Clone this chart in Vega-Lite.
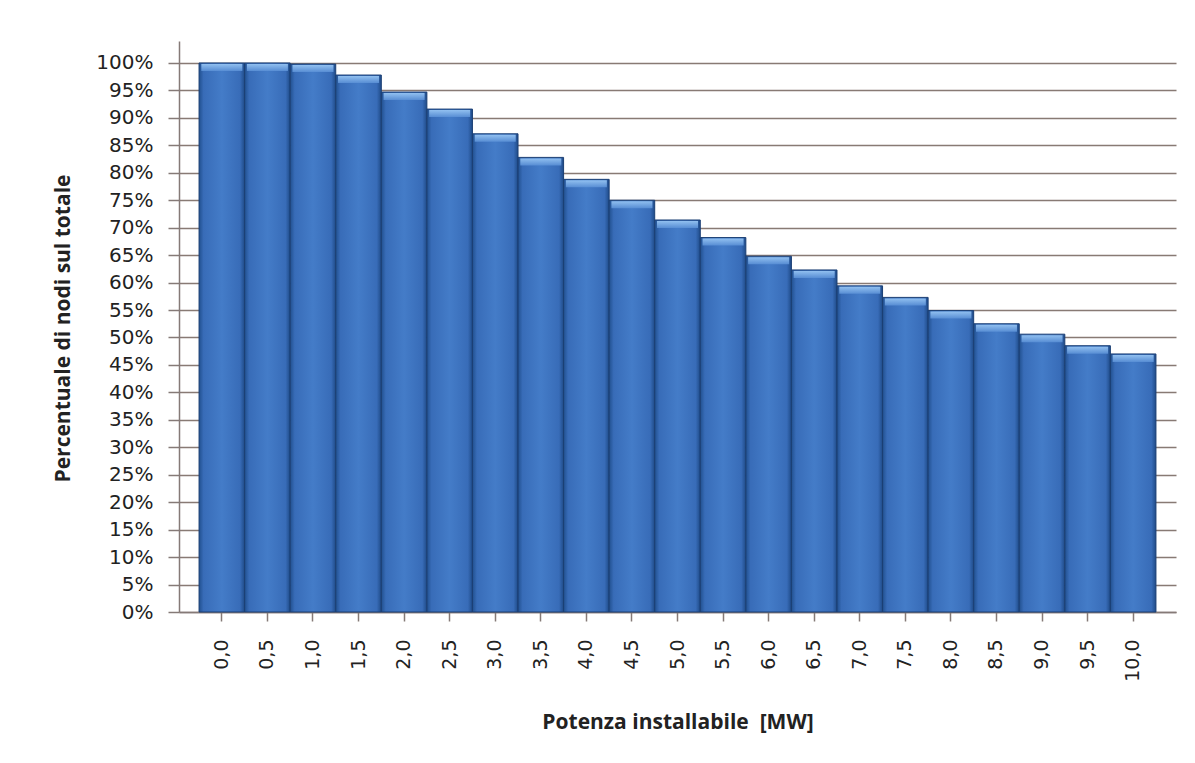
{
  "$schema": "https://vega.github.io/schema/vega-lite/v6.json",
  "autosize": {"type": "none"},
  "width": 997,
  "height": 571,
  "padding": {"left": 179, "top": 41, "right": 19, "bottom": 151},
  "background": "white",
  "config": {
    "view": {"stroke": null},
    "axis": {"labelFont": "DejaVu Sans", "labelColor": "#222222", "titleFont": "Open Sans", "titleFontWeight": "bold", "titleColor": "#222222"}
  },
  "data": {
    "values": [
      {"potenza": "0,0", "perc": 1.0},
      {"potenza": "0,5", "perc": 1.0},
      {"potenza": "1,0", "perc": 0.998},
      {"potenza": "1,5", "perc": 0.978},
      {"potenza": "2,0", "perc": 0.947},
      {"potenza": "2,5", "perc": 0.916},
      {"potenza": "3,0", "perc": 0.871},
      {"potenza": "3,5", "perc": 0.828},
      {"potenza": "4,0", "perc": 0.788},
      {"potenza": "4,5", "perc": 0.750},
      {"potenza": "5,0", "perc": 0.714},
      {"potenza": "5,5", "perc": 0.682},
      {"potenza": "6,0", "perc": 0.648},
      {"potenza": "6,5", "perc": 0.623},
      {"potenza": "7,0", "perc": 0.594},
      {"potenza": "7,5", "perc": 0.573},
      {"potenza": "8,0", "perc": 0.549},
      {"potenza": "8,5", "perc": 0.525},
      {"potenza": "9,0", "perc": 0.506},
      {"potenza": "9,5", "perc": 0.485},
      {"potenza": "10,0", "perc": 0.470}
    ]
  },
  "encoding": {
    "x": {
      "field": "potenza", "type": "nominal", "sort": null,
      "scale": {"paddingInner": 0, "paddingOuter": 0.44},
      "axis": {
        "title": "Potenza installabile \u00a0[MW]",
        "titleFontSize": 21,
        "titleY": 110,
        "titleBaseline": "middle",
        "labelAngle": 270,
        "labelFontSize": 19,
        "labelPadding": 18,
        "labelBaseline": "middle",
        "tickSize": 9,
        "tickColor": "#857a77",
        "domainColor": "#857a77",
        "domainWidth": 1.5,
        "tickWidth": 1.5
      }
    },
    "y": {
      "field": "perc", "type": "quantitative",
      "scale": {"domain": [0, 1.04], "nice": false},
      "axis": {
        "title": "Percentuale di nodi sul totale",
        "titleFontSize": 21,
        "titleX": -116,
        "titleY": 287,
        "titleBaseline": "middle",
        "values": [0, 0.05, 0.1, 0.15, 0.2, 0.25, 0.3, 0.35, 0.4, 0.45, 0.5, 0.55, 0.6, 0.65, 0.7, 0.75, 0.8, 0.85, 0.9, 0.95, 1.0],
        "format": ".0%",
        "labelFontSize": 20,
        "tickSize": 11,
        "labelPadding": 15,
        "tickColor": "#857a77",
        "tickWidth": 1.5,
        "domainColor": "#857a77",
        "domainWidth": 1.5,
        "grid": true,
        "gridColor": "#887a74",
        "gridWidth": 1.7
      }
    }
  },
  "layer": [
    {
      "mark": {
        "type": "bar",
        "stroke": "#1b3f74",
        "strokeWidth": 1,
        "color": {
          "gradient": "linear", "x1": 0, "x2": 1, "y1": 0, "y2": 0,
          "stops": [
            {"offset": 0, "color": "#21508f"},
            {"offset": 0.1, "color": "#386cb8"},
            {"offset": 0.5, "color": "#447cc8"},
            {"offset": 0.9, "color": "#386cb8"},
            {"offset": 1, "color": "#1f4b88"}
          ]
        }
      }
    },
    {
      "mark": {
        "type": "tick",
        "size": 41,
        "thickness": 7,
        "yOffset": 4.5,
        "opacity": 0.9,
        "color": {
          "gradient": "linear", "x1": 0, "x2": 0, "y1": 0, "y2": 1,
          "stops": [
            {"offset": 0, "color": "#9ac8f5"},
            {"offset": 1, "color": "#5a90d6"}
          ]
        }
      }
    }
  ]
}
